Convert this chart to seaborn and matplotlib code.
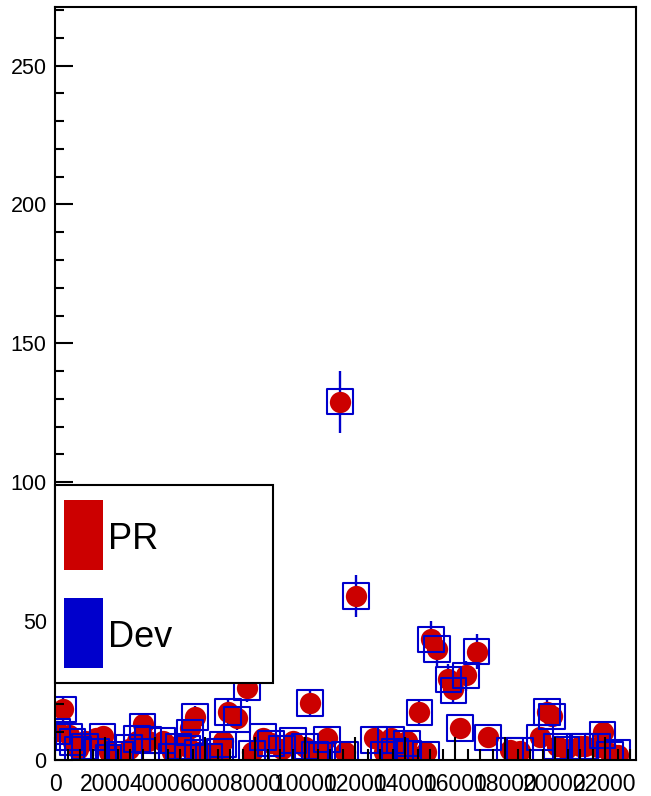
import numpy as np
import pandas as pd
import matplotlib
matplotlib.use("Agg")
import matplotlib.pyplot as plt
import seaborn as sns
from matplotlib.patches import Rectangle
from matplotlib.ticker import MultipleLocator

sns.set_theme(style="white")
plt.rcParams['font.family'] = ['Liberation Sans', 'DejaVu Sans']
plt.rcParams['text.color'] = 'black'
plt.rcParams['xtick.color'] = 'black'
plt.rcParams['ytick.color'] = 'black'

# Bin positions and the two series
x_pos = [80, 320, 560, 700, 920, 1200, 1650, 1900, 2150, 2600,
         2960, 3280, 3500, 3720, 4300, 4680, 4950, 5300, 5400, 5600,
         5700, 6160, 6600, 6720, 6920, 7280, 7680, 7880, 8320, 8640,
         9080, 9520, 10000, 10200, 10400, 10680, 10880, 11400, 11600, 12040,
         12760, 13160, 13440, 13600, 14080, 14120, 14570, 14840, 15040, 15280,
         15730, 15930, 16200, 16440, 16870, 17320, 18200, 18600, 19400, 19680,
         19880, 20080, 20440, 21000, 21200, 21700, 21900, 22200, 22500]
pr = [10.5, 18.5, 9, 6.5, 4, 7, 8, 8.5, 3, 2,
      4, 7, 13, 7, 7, 3, 5.4, 4.7, 11.5, 15.5,
      3, 2, 3, 7, 17.3, 15, 26, 3, 8, 6,
      4, 7, 4.7, 20.5, 2, 2.5, 8, 129, 3, 59,
      8, 3, 8, 3, 7, 3, 17.2, 3, 43.5, 40,
      29, 25.5, 11.5, 30.6, 39, 8.3, 3.5, 3.2, 8.3, 17.3,
      16, 5, 4, 5, 5, 4.7, 10, 2.5, 1.8]
dev = [10.4, 18.3, 8.3, 6.5, 3.6, 5, 3, 8.3, 1, 1.8,
       4.3, 7.6, 12, 7.2, 7, 1.4, 5, 4, 10, 15.5,
       2.5, 1.4, 3, 5.7, 17.3, 14.7, 26, 2.2, 8.3, 6,
       4, 7, 5, 20.5, 2, 1.5, 7.5, 129, 2, 59,
       7.2, 1.8, 7.2, 3, 6, 2.2, 17.2, 1.8, 43.5, 40,
       29, 25, 11.5, 30.3, 39, 8, 3.5, 3.5, 8, 17.3,
       15.8, 5, 3.6, 5, 5, 4.7, 9, 2, 2.5]
dev_err = [3.2, 4.3, 2.9, 2.5, 1.9, 2.2, 1.7, 2.9, 1, 1.3,
           2.1, 2.8, 3.5, 2.7, 2.6, 1.2, 2.2, 2, 3.2, 3.9,
           1.6, 1.2, 1.7, 2.4, 4.2, 3.8, 5.1, 1.5, 2.9, 2.4,
           2, 2.6, 2.2, 4.5, 1.4, 1.2, 2.7, 11.2, 1.4, 7.6,
           2.7, 1.3, 2.7, 1.7, 2.4, 1.5, 4.1, 1.3, 6.4, 6.3,
           5.4, 5, 3.4, 5.5, 6.2, 2.8, 1.9, 1.9, 2.8, 4.2,
           4, 2.2, 1.9, 2.2, 2.2, 2.2, 3, 1.4, 1.6]
series_names = ['PR', 'Dev']

RED = '#cc0000'
BLUE = '#0000cc'

df = pd.DataFrame({'x': x_pos, 'PR': pr, 'Dev': dev, 'err': dev_err})

fig = plt.figure(figsize=(6.51, 7.96), dpi=100)
ax = fig.add_axes([0.0845, 0.0452, 0.8925, 0.9458])

# error bars of the Dev series, under the markers
ax.errorbar(df['x'], df['Dev'], yerr=df['err'], fmt='none', ecolor=BLUE,
            elinewidth=1.7, capsize=0, zorder=1.5)
sns.scatterplot(data=df, x='x', y='PR', ax=ax, marker='o', s=235, color=RED,
                edgecolor=RED, linewidth=0, zorder=1.8, legend=False)
sns.scatterplot(data=df, x='x', y='Dev', ax=ax, marker='s', s=330,
                facecolor='none', edgecolor=BLUE, linewidth=1.5, zorder=2.0,
                legend=False)

ax.set_xlim(0, 23240)
ax.set_ylim(0, 271)
ax.set_xlabel('')
ax.set_ylabel('')

ax.xaxis.set_minor_locator(MultipleLocator(500))
ax.yaxis.set_major_locator(MultipleLocator(50))
ax.yaxis.set_minor_locator(MultipleLocator(10))
ax.set_xticks(np.arange(0, 23000, 2000))
ax.set_xticklabels([str(v) for v in range(0, 23000, 2000)])

ax.tick_params(axis='x', which='major', direction='in', length=16.5, width=1.5,
               labelsize=16.5, pad=9, bottom=True, top=False)
ax.tick_params(axis='x', which='minor', direction='in', length=8, width=1.5,
               bottom=True, top=False)
ax.tick_params(axis='y', which='major', direction='in', length=13, width=1.5,
               labelsize=15.5, pad=6, left=True, right=False)
ax.tick_params(axis='y', which='minor', direction='in', length=6.5, width=1.5,
               left=True, right=False)
ax.set_axisbelow(False)

for side in ['left', 'bottom', 'right', 'top']:
    ax.spines[side].set_visible(True)
    ax.spines[side].set_color('black')
    ax.spines[side].set_linewidth(1.5)
ax.grid(False)

# ROOT-style legend box drawn in axes coordinates
ax.add_patch(Rectangle((0.0, 0.1023), 0.3752, 0.2629, transform=ax.transAxes,
                       facecolor='white', edgecolor='black', linewidth=1.5,
                       zorder=5, clip_on=False))
for name, color, y0 in zip(series_names, [RED, BLUE], [0.2523, 0.1222]):
    ax.add_patch(Rectangle((0.0155, y0), 0.0671, 0.093, transform=ax.transAxes,
                           facecolor=color, edgecolor='none', zorder=6))
    ax.text(0.0912, y0 + 0.041, name, transform=ax.transAxes, fontsize=26,
            va='center', ha='left', color='black', zorder=7)

fig.savefig('out.png', dpi=100)
